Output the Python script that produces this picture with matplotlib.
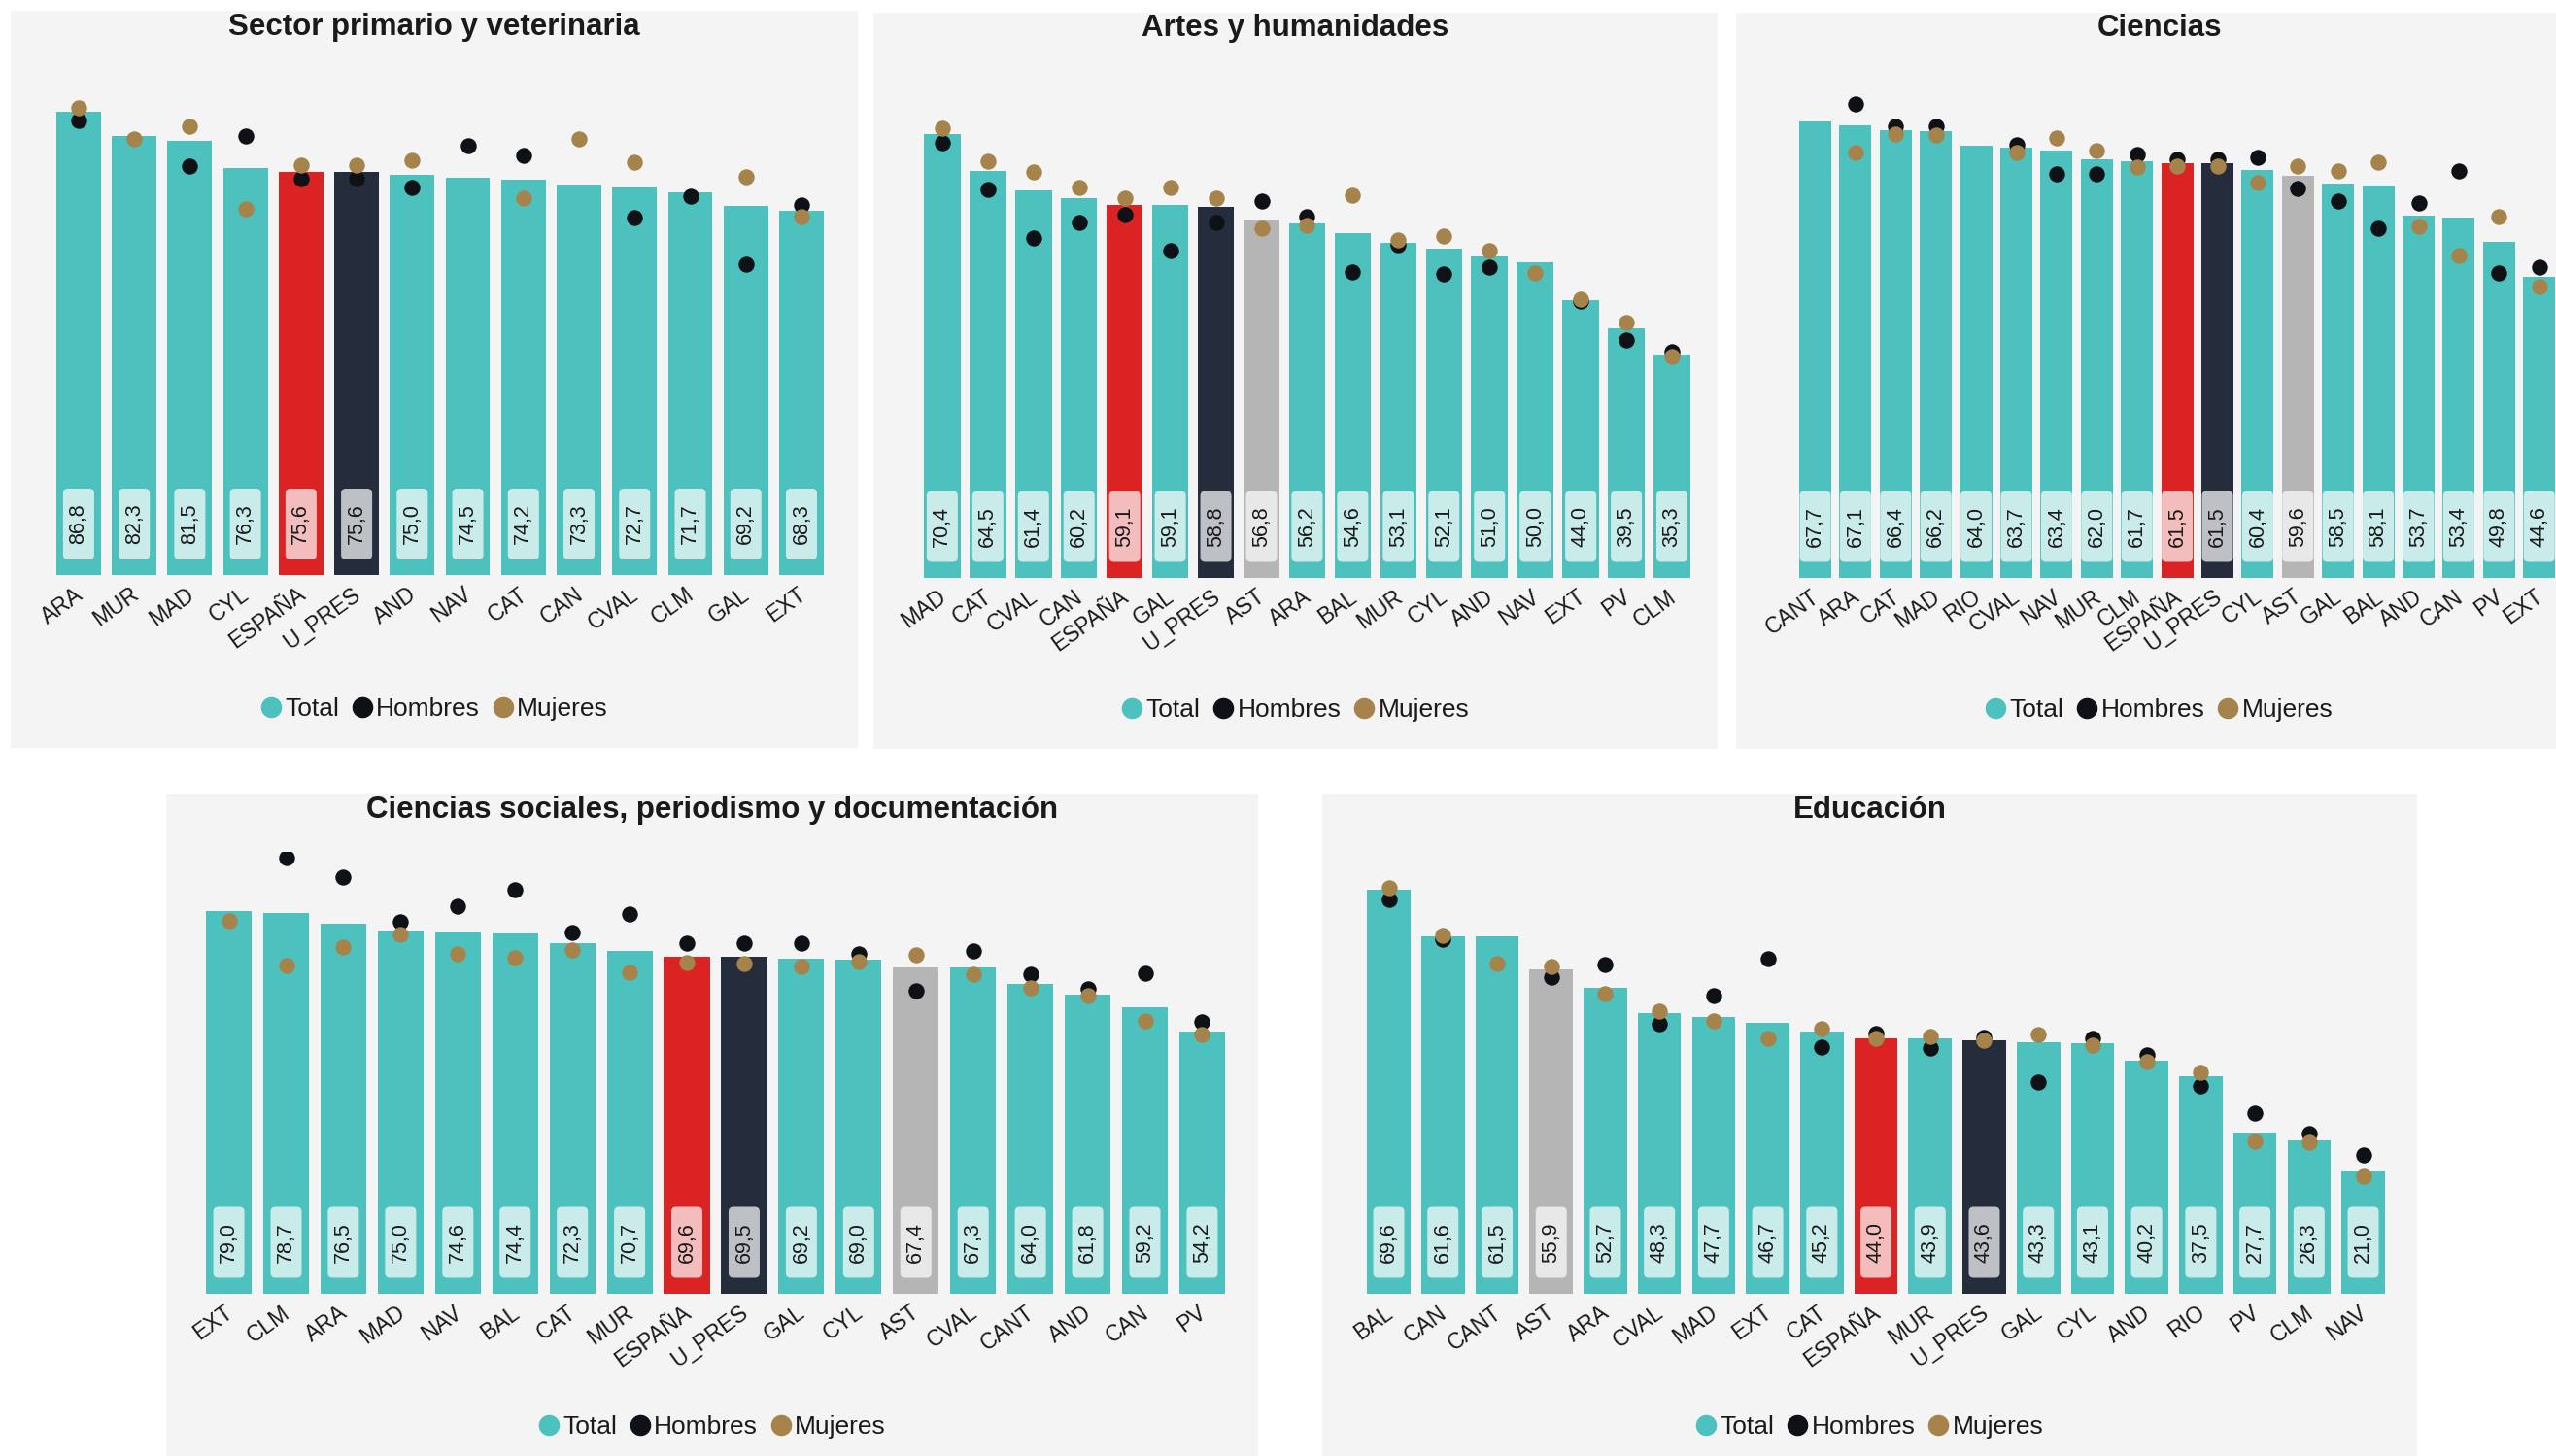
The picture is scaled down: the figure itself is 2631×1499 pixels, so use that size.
import numpy as np
import matplotlib
matplotlib.use("Agg")
import matplotlib.pyplot as plt
from matplotlib.patches import Rectangle, FancyBboxPatch
from matplotlib.lines import Line2D
from matplotlib.transforms import ScaledTranslation

plt.rcParams['font.family'] = ['Liberation Sans', 'DejaVu Sans']

nan = np.nan

# --- datos ---
sector_cats = ["ARA", "MUR", "MAD", "CYL", "ESPAÑA", "U_PRES", "AND", "NAV", "CAT",
               "CAN", "CVAL", "CLM", "GAL", "EXT"]
sector_total = [86.8, 82.3, 81.5, 76.3, 75.6, 75.6, 75.0, 74.5, 74.2, 73.3, 72.7, 71.7, 69.2, 68.3]
sector_hombres = [85.3, nan, 76.7, 82.4, 74.3, 74.3, 72.7, 80.6, 78.6, nan, 67.1, 71.0, 58.2, 69.4]
sector_mujeres = [87.7, 81.7, 84.1, 68.7, 76.8, 76.8, 77.7, nan, 70.7, 81.8, 77.5, nan, 74.7, 67.3]

artes_cats = ["MAD", "CAT", "CVAL", "CAN", "ESPAÑA", "GAL", "U_PRES", "AST", "ARA", "BAL",
              "MUR", "CYL", "AND", "NAV", "EXT", "PV", "CLM"]
artes_total = [70.4, 64.5, 61.4, 60.2, 59.1, 59.1, 58.8, 56.8, 56.2, 54.6, 53.1, 52.1, 51.0,
               50.0, 44.0, 39.5, 35.3]
artes_hombres = [69.0, 61.6, 53.8, 56.3, 57.5, 51.8, 56.3, 59.7, 57.3, 48.5, 52.7, 48.2, 49.2,
                 nan, 43.9, 37.7, 35.9]
artes_mujeres = [71.2, 66.0, 64.3, 61.8, 60.1, 61.9, 60.1, 55.4, 55.8, 60.7, 53.5, 54.2, 51.9,
                 48.3, 44.1, 40.5, 35.0]

ciencias_cats = ["CANT", "ARA", "CAT", "MAD", "RIO", "CVAL", "NAV", "MUR", "CLM", "ESPAÑA",
                 "U_PRES", "CYL", "AST", "GAL", "BAL", "AND", "CAN", "PV", "EXT"]
ciencias_total = [67.7, 67.1, 66.4, 66.2, 64.0, 63.7, 63.4, 62.0, 61.7, 61.5, 61.5, 60.4, 59.6,
                  58.5, 58.1, 53.7, 53.4, 49.8, 44.6]
ciencias_hombres = [nan, 70.2, 66.9, 66.9, nan, 64.2, 59.9, 59.9, 62.8, 62.0, 62.0, 62.3, 57.7,
                    55.9, 51.8, 55.6, 60.3, 45.2, 46.1]
ciencias_mujeres = [nan, 63.1, 65.8, 65.6, nan, 63.1, 65.2, 63.3, 60.9, 61.0, 61.0, 58.6, 61.0,
                    60.3, 61.6, 52.1, 47.8, 53.5, 43.1]

sociales_cats = ["EXT", "CLM", "ARA", "MAD", "NAV", "BAL", "CAT", "MUR", "ESPAÑA", "U_PRES",
                 "GAL", "CYL", "AST", "CVAL", "CANT", "AND", "CAN", "PV"]
sociales_total = [79.0, 78.7, 76.5, 75.0, 74.6, 74.4, 72.3, 70.7, 69.6, 69.5, 69.2, 69.0, 67.4,
                  67.3, 64.0, 61.8, 59.2, 54.2]
sociales_hombres = [nan, 90.1, 86.0, 76.9, 80.0, 83.4, 74.6, 78.4, 72.3, 72.3, 72.3, 70.1, 62.6,
                    70.8, 65.9, 62.9, 66.2, 56.1]
sociales_mujeres = [77.0, 67.8, 71.6, 74.2, 70.1, 69.3, 71.0, 66.3, 68.4, 68.1, 67.5, 68.6, 70.0,
                    65.9, 63.1, 61.6, 56.4, 53.6]

educ_cats = ["BAL", "CAN", "CANT", "AST", "ARA", "CVAL", "MAD", "EXT", "CAT", "ESPAÑA", "MUR",
             "U_PRES", "GAL", "CYL", "AND", "RIO", "PV", "CLM", "NAV"]
educ_total = [69.6, 61.6, 61.5, 55.9, 52.7, 48.3, 47.7, 46.7, 45.2, 44.0, 43.9, 43.6, 43.3, 43.1,
              40.2, 37.5, 27.7, 26.3, 21.0]
educ_hombres = [67.9, 61.1, nan, 54.5, 56.7, 46.5, 51.3, 57.7, 42.5, 44.8, 42.3, 44.1, 36.4, 43.9,
                41.2, 35.7, 31.1, 27.5, 23.8]
educ_mujeres = [70.0, 61.7, 56.9, 56.3, 51.7, 48.7, 47.0, 44.0, 45.6, 43.9, 44.3, 43.6, 44.7, 42.8,
                40.0, 38.1, 26.2, 26.1, 20.2]

# --- estilo ---
W, H = 2631, 1499
BG = "#f4f4f4"
TEAL = "#4dc1bd"
RED = "#dc2323"
NAVY = "#252d3d"
GREY = "#b5b5b5"
BLACK = "#0e1116"
BROWN = "#a5834a"
TXT = "#1a1a1a"
special = {"ESPAÑA": RED, "U_PRES": NAVY, "AST": GREY}

# layout en pixeles: fondo (x0, y0, x1, y1), eje (x0, x1, base, top), px por unidad, titulo y, leyenda y
panels = [
    ("Sector primario y veterinaria", sector_cats, sector_total, sector_hombres, sector_mujeres,
     (11, 11, 883, 770), (52.3, 853.6, 592, 66), 5.49, 28, 730),
    ("Artes y humanidades", artes_cats, artes_total, artes_hombres, artes_mujeres,
     (899, 13, 1768, 771), (946.4, 1744.5, 594.5, 66), 6.49, 29, 731),
    ("Ciencias", ciencias_cats, ciencias_total, ciencias_hombres, ciencias_mujeres,
     (1787, 13, 2658, 771), (1847.8, 2634.4, 594.5, 66), 6.94, 29, 731),
    ("Ciencias sociales, periodismo y documentación", sociales_cats, sociales_total,
     sociales_hombres, sociales_mujeres,
     (171, 817, 1295, 1499), (206.1, 1266.9, 1331.5, 877), 4.98, 834, 1469),
    ("Educación", educ_cats, educ_total, educ_hombres, educ_mujeres,
     (1361, 817, 2488, 1499), (1401.7, 2460.4, 1331.5, 877), 5.97, 834, 1469),
]


def fx(x):
    return x / W


def fy(y):
    return 1 - y / H


fig = plt.figure(figsize=(W / 100, H / 100), dpi=100)
shift = ScaledTranslation(-5 / 100, 0, fig.dpi_scale_trans)

for title, cats, total, hombres, mujeres, bg, axl, scale, title_y, leg_y in panels:
    bx0, by0, bx1, by1 = bg
    fig.add_artist(Rectangle((fx(bx0), fy(by1)), (bx1 - bx0) / W, (by1 - by0) / H,
                             transform=fig.transFigure, facecolor=BG, edgecolor="none", zorder=0))
    cx = (bx0 + bx1) / 2
    fig.text(fx(cx), fy(title_y), title, ha="center", va="center", fontsize=22.5,
             fontweight="bold", color=TXT)

    ax0, ax1, base, top = axl
    ax = fig.add_axes([fx(ax0), fy(base), (ax1 - ax0) / W, (base - top) / H])
    ax.patch.set_alpha(0)
    n = len(cats)
    x = np.arange(n)
    ax.set_xlim(-0.5, n - 0.5)
    ax.set_ylim(0, (base - top) / scale)
    for s in ax.spines.values():
        s.set_visible(False)
    ax.set_yticks([])

    colors = [special.get(c, TEAL) for c in cats]
    ax.bar(x, total, width=0.8, color=colors, zorder=2)
    ax.scatter(x, hombres, s=140, color=BLACK, zorder=4, linewidths=0)
    ax.scatter(x, mujeres, s=140, color=BROWN, zorder=5, linewidths=0)

    # cajas con el valor
    spacing = (ax1 - ax0) / n
    bw = 32 / spacing
    bh = 73 / scale
    yb = 16 / scale
    for i, v in enumerate(total):
        box = FancyBboxPatch((i - bw / 2, yb), bw, bh,
                             boxstyle="round,pad=0,rounding_size=%f" % (5 / spacing),
                             mutation_aspect=spacing / scale,
                             facecolor="white", edgecolor="none", alpha=0.7, zorder=3)
        ax.add_patch(box)
        ax.text(i, yb + bh / 2, f"{v:.1f}".replace(".", ","), rotation=90, ha="center",
                va="center", fontsize=15.5, color=TXT, zorder=6)

    ax.set_xticks(x)
    ax.set_xticklabels(cats, rotation=36, ha="right", va="top", rotation_mode="anchor",
                       fontsize=16.5, color=TXT)
    ax.tick_params(axis="x", length=0, pad=6)
    for lab in ax.get_xticklabels():
        lab.set_transform(lab.get_transform() + shift)

    handles = [Line2D([], [], marker="o", linestyle="", markersize=14.5, color=c)
               for c in (TEAL, BLACK, BROWN)]
    fig.legend(handles, ["Total", "Hombres", "Mujeres"], loc="center",
               bbox_to_anchor=(fx(cx), fy(leg_y)), ncol=3, frameon=False, fontsize=19,
               handlelength=0.8, handletextpad=0.15, columnspacing=0.5, labelcolor=TXT)

fig.savefig("out.png", dpi=100)
